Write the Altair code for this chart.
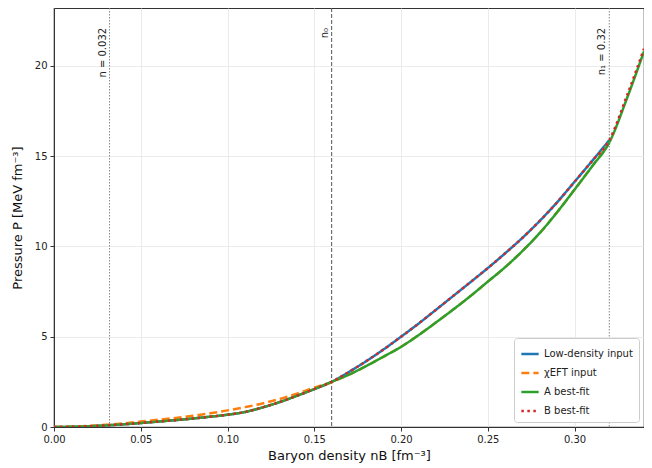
import altair as alt
import pandas as pd

nb_full = [round(0.01 * i, 2) for i in range(35)]
nb_eft = nb_full[:33]

p_low_common = [0.0, 0.01, 0.04, 0.09, 0.15, 0.22, 0.30, 0.38, 0.47, 0.57, 0.68, 0.83, 1.08, 1.38, 1.73, 2.10, 2.50]
p_blue_hi = [3.05, 3.65, 4.30, 5.00, 5.72, 6.48, 7.25, 8.02, 8.80, 9.62, 10.48, 11.42, 12.45, 13.58, 14.72, 15.88]
p_green_hi = [2.90, 3.38, 3.90, 4.44, 5.08, 5.78, 6.50, 7.25, 8.05, 8.85, 9.75, 10.75, 11.90, 13.15, 14.42, 15.75]
p_eft_lo = [0.0, 0.02, 0.06, 0.12, 0.20, 0.30, 0.40, 0.50, 0.62, 0.76, 0.92, 1.10, 1.30, 1.55, 1.85, 2.18, 2.48]
p_a_tail = [18.15, 20.80]
p_b_tail = [18.30, 20.95]

p_low = p_low_common + p_blue_hi
p_eft = p_eft_lo + p_green_hi
p_a = p_low_common + p_green_hi + p_a_tail
p_b = p_low_common + p_blue_hi + p_b_tail

series = ["Low-density input", "χEFT input", "A best-fit", "B best-fit"]
colors = ["#1f77b4", "#ff7f0e", "#2ca02c", "#d62728"]
dashes = [[1, 0], [8, 4], [1, 0], [2.5, 3.5]]
widths = [2.5, 2.5, 3.0, 2.5]

rows = []
for name, xs, ys in [(series[0], nb_eft, p_low), (series[1], nb_eft, p_eft),
                     (series[2], nb_full, p_a), (series[3], nb_full, p_b)]:
    for i, (x, y) in enumerate(zip(xs, ys)):
        rows.append({"nb": x, "P": y, "series": name, "o": i})
df = pd.DataFrame(rows)

vlines_x = [0.032, 0.16, 0.32]
vlines_label = ["n = 0.032", "n₀", "n₁ = 0.32"]
vlines_dash = [[1.5, 1.5], [4, 2], [1.5, 1.5]]
vlines_color = ["#888888", "#555555", "#888888"]

xs = alt.Scale(domain=[0, 0.34], nice=False, zero=False)
ys = alt.Scale(domain=[0, 23.2], nice=False, zero=False)

font = "DejaVu Sans"

lines = alt.Chart(df).mark_line(clip=True, interpolate="monotone").encode(
    x=alt.X("nb:Q", scale=xs,
            axis=alt.Axis(title="Baryon density nB [fm⁻³]", values=[0, 0.05, 0.1, 0.15, 0.2, 0.25, 0.3],
                          format=".2f", labelFlush=False)),
    y=alt.Y("P:Q", scale=ys,
            axis=alt.Axis(title="Pressure P [MeV fm⁻³]", values=[0, 5, 10, 15, 20], labelFlush=False)),
    color=alt.Color("series:N", scale=alt.Scale(domain=series, range=colors),
                    legend=alt.Legend(title=None, orient="bottom-right")),
    strokeDash=alt.StrokeDash("series:N", scale=alt.Scale(domain=series, range=dashes),
                              legend=alt.Legend(title=None, orient="bottom-right")),
    strokeWidth=alt.StrokeWidth("series:N", scale=alt.Scale(domain=series, range=widths), legend=None),
    order="o:Q",
)

layers = []
for x, lab, dsh, col in zip(vlines_x, vlines_label, vlines_dash, vlines_color):
    vdf = pd.DataFrame({"x": [x], "lab": [lab], "y": [22.1]})
    rule = alt.Chart(vdf).mark_rule(color=col, strokeDash=dsh, strokeWidth=1).encode(x="x:Q")
    txt = alt.Chart(vdf).mark_text(angle=270, align="right", baseline="bottom", dy=-2,
                                   fontSize=10, font=font, color="#222222").encode(
        x="x:Q", y="y:Q", text="lab:N")
    layers += [rule, txt]

chart = alt.layer(*layers, lines).properties(
    width=590, height=419,
    padding={"left": 46, "top": 0, "right": 0, "bottom": 41},
    autosize=alt.AutoSizeParams(type="none"),
).configure_view(
    stroke="#333333", strokeWidth=1.2
).configure_axis(
    labelFont=font, titleFont=font, labelFontSize=10, titleFontSize=13,
    titleFontWeight="normal", labelColor="#222222", titleColor="#111111",
    gridColor="#e6e6e6", gridWidth=0.8, domainColor="#333333",
    tickColor="#333333", tickSize=4, labelPadding=3,
).configure_axisY(titlePadding=10).configure_axisX(titlePadding=5).configure_legend(
    labelFont=font, labelFontSize=10, labelColor="#222222",
    strokeColor="#cccccc", fillColor="white", padding=6, cornerRadius=3,
    symbolType="stroke", symbolSize=300, symbolStrokeWidth=2.5, rowPadding=4,
    offset=5,
)

chart.save("out.html", embed_options={"renderer": "svg", "actions": False})
